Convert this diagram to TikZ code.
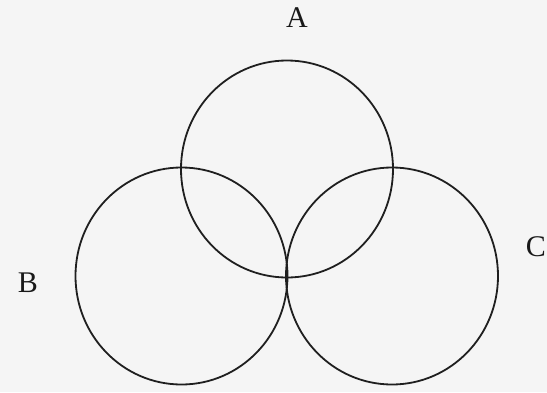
\documentclass[tikz,border=0pt]{standalone}
\usepackage{fontspec}
\setmainfont{Liberation Serif}
\usetikzlibrary{shapes.geometric}
\begin{document}
\begin{tikzpicture}[x=1pt,y=-1pt,
  setcircle/.style={draw=black!88, line width=1.8pt, ellipse, inner sep=0pt, outer sep=0pt,
    minimum width=212pt, minimum height=217pt},
  setlabel/.style={font=\fontsize{30}{32}\selectfont, text=black!90, inner sep=0pt}]
  \fill[black!4] (0,0) rectangle (547,392);
  \useasboundingbox (0,0) rectangle (547,392);
  \node[setcircle] (cA) at (287,169) {};
  \node[setcircle] (cB) at (181.5,276) {};
  \node[setcircle] (cC) at (392,276) {};
  \node[setlabel, anchor=base] (lA) at (297,27) {A};
  \node[setlabel, anchor=base] (lB) at (28,292) {B};
  \node[setlabel, anchor=base] (lC) at (536,256) {C};
\end{tikzpicture}
\end{document}
